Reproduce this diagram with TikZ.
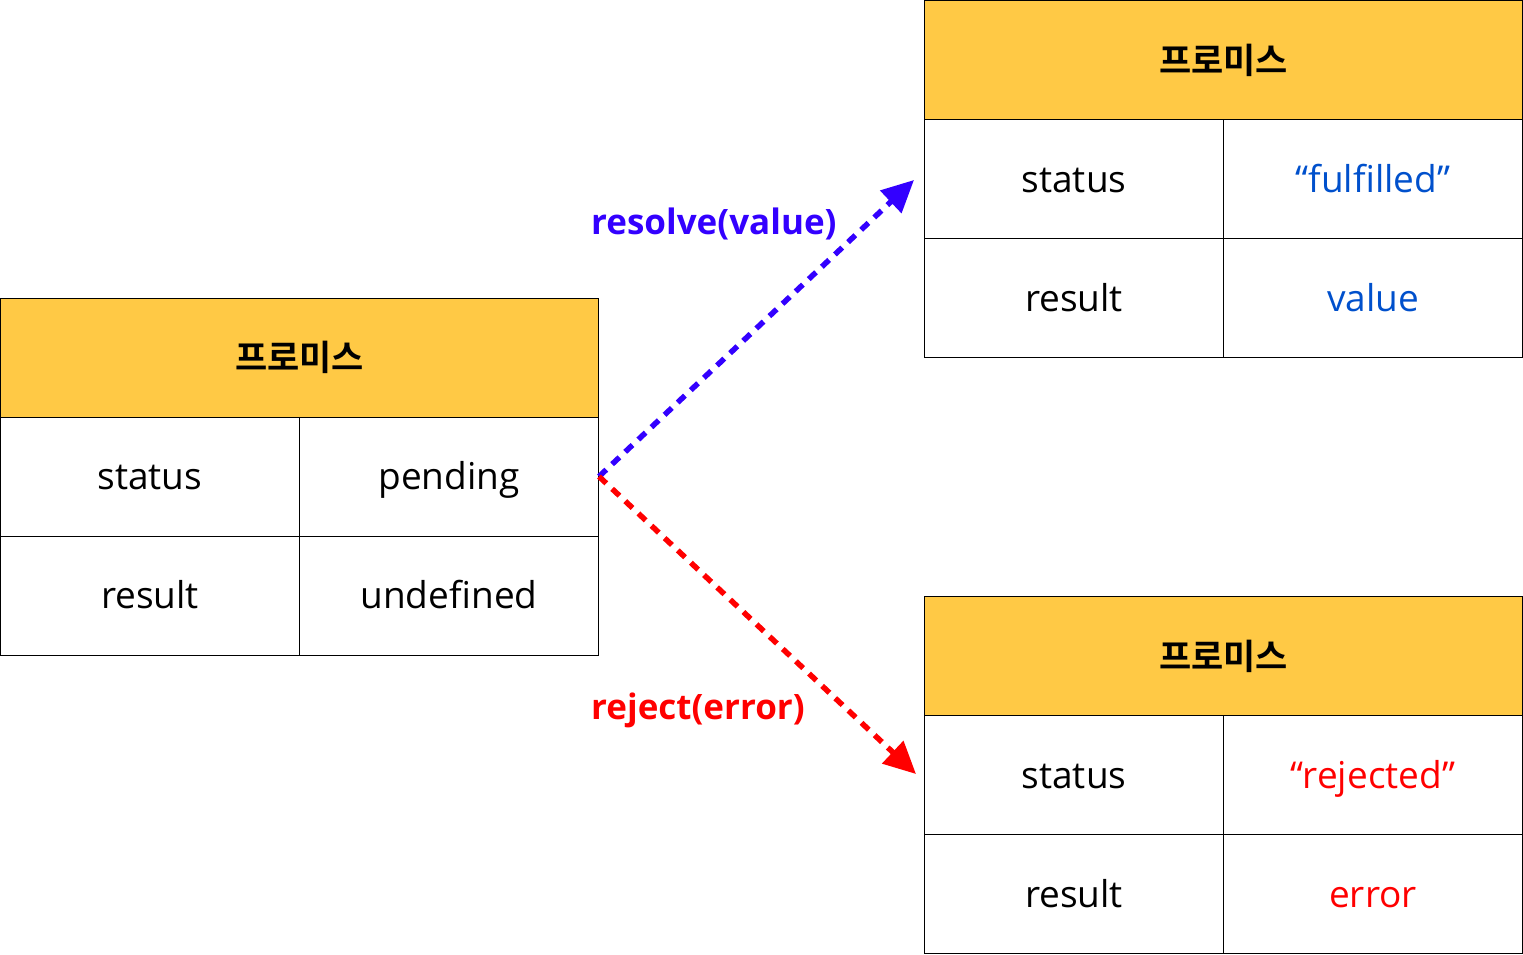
\documentclass[tikz,border=0pt]{standalone}
\usepackage{fontspec}
\setmainfont{Open Sans}
\newfontfamily\krfont{Noto Sans CJK KR}[BoldFont={* Bold}]
\usetikzlibrary{arrows.meta}
\definecolor{hdrfill}{HTML}{FFC945}
\definecolor{resblue}{HTML}{3300FF}
\definecolor{valblue}{HTML}{0050CC}
\definecolor{rejred}{HTML}{FF0000}
\tikzset{
  cell/.style={draw=black, line width=1pt, minimum width=299pt, minimum height=119pt, inner sep=0pt,
    text height=28pt, text depth=2pt, font=\fontsize{37}{44}\selectfont},
  hdr/.style={draw=black, line width=1pt, minimum height=119pt, inner sep=0pt,
    fill=hdrfill, minimum width=598pt, font=\krfont\bfseries\fontsize{35}{42}\selectfont},
  flow/.style={line width=5.5pt, dash pattern=on 10pt off 8pt, -{Triangle[length=32pt,width=30pt]}},
  lbl/.style={font=\bfseries\fontsize{35}{42}\selectfont, inner sep=0pt}
}
\begin{document}
\begin{tikzpicture}[x=1pt,y=-1pt]
\useasboundingbox (0,0) rectangle (1523,954);
% left table
\node[hdr] (Lh) at (299.5,357.5) {프로미스};
\node[cell] (Ls) at (150,476.5) {status};
\node[cell] (Lp) at (449,476.5) {pending};
\node[cell] (Lr) at (150,595.5) {result};
\node[cell] (Lu) at (449,595.5) {undefined};
% top right table
\node[hdr] (Th) at (1223.5,60) {프로미스};
\node[cell] (Ts) at (1074,179) {status};
\node[cell, text=valblue] (Tf) at (1373,179) {“fulfilled”};
\node[cell] (Tr) at (1074,298) {result};
\node[cell, text=valblue] (Tv) at (1373,298) {value};
% bottom right table
\node[hdr] (Bh) at (1223.5,656) {프로미스};
\node[cell] (Bs) at (1074,775) {status};
\node[cell, text=rejred] (Bj) at (1373,775) {“rejected”};
\node[cell] (Br) at (1074,894) {result};
\node[cell, text=rejred] (Be) at (1373,894) {error};
% arrows
\coordinate (tipB) at (914,180);
\coordinate (tipR) at (916,774);
\draw[flow, resblue] (Lp.east) -- (tipB);
\draw[flow, rejred] (Lp.east) -- (tipR);
% labels
\node[lbl, text=resblue, anchor=west] (lres) at (591,224) {resolve(value)};
\node[lbl, text=rejred, anchor=west] (lrej) at (591,710) {reject(error)};
\end{tikzpicture}
\end{document}
